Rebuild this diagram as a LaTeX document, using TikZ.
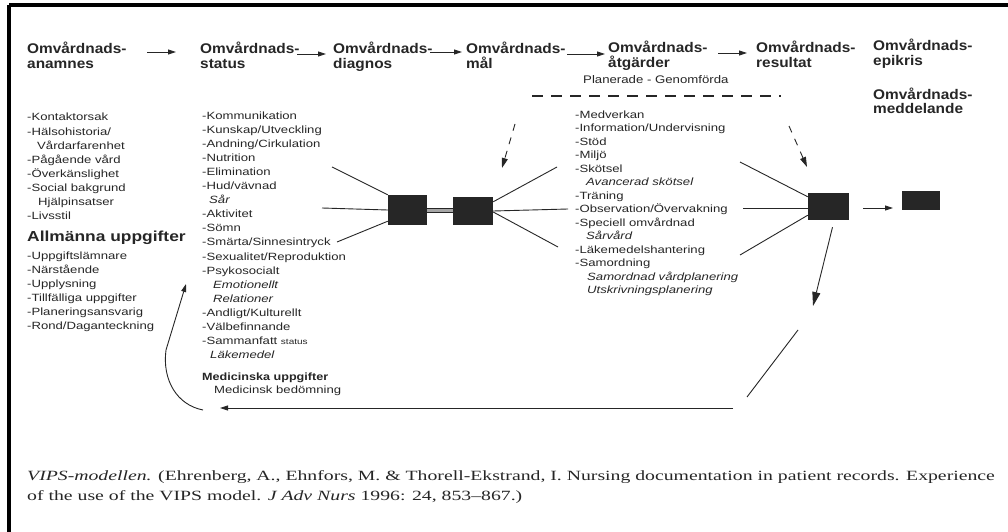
\documentclass[tikz,border=0pt]{standalone}
\usepackage{fontspec}
\setmainfont{Liberation Serif}
\newfontfamily\hsans[FakeStretch=1.1]{Liberation Sans}
\newfontfamily\lsans[FakeStretch=1.25]{Liberation Sans}
\newfontfamily\bsans[FakeStretch=1.2]{Liberation Sans}
\newfontfamily\capfont[FakeStretch=1.4]{Liberation Serif}
\usetikzlibrary{arrows.meta,calc}
\begin{document}
\begin{tikzpicture}[x=1pt,y=-1pt,
  every node/.style={text=black!85},
  hdr/.style={anchor=west, inner sep=0, font=\hsans\bfseries\fontsize{14}{16}\selectfont, text height=10pt, text depth=3pt},
  li/.style={anchor=west, inner sep=0, font=\lsans\fontsize{10.5}{12}\selectfont, text height=8pt, text depth=2pt},
  lit/.style={anchor=west, inner sep=0, font=\lsans\itshape\fontsize{10.5}{12}\selectfont, text height=8pt, text depth=2pt},
  bhd/.style={anchor=west, inner sep=0, font=\bsans\bfseries\fontsize{14.5}{16}\selectfont, text height=10pt, text depth=3pt},
  mhd/.style={anchor=west, inner sep=0, font=\bsans\bfseries\fontsize{10.5}{12}\selectfont, text height=8pt, text depth=2pt},
  captext/.style={anchor=west, inner sep=0, font=\capfont\fontsize{14.1}{16}\selectfont, text height=10pt, text depth=3pt},
  blk/.style={fill=black!85, inner sep=0, draw=none},
  ln/.style={line width=0.9pt, draw=black!85},
  arr/.style={ln, -{Triangle[length=8pt,width=5pt]}},
  bigarr/.style={ln, -{Triangle[length=14pt,width=8pt]}},
  darr/.style={ln, dash pattern=on 7pt off 7pt, -{Triangle[length=10pt,width=6pt]}},
]
\useasboundingbox (0,0) rectangle (1008,532);
\fill[white] (0,0) rectangle (1008,532);
% frame
\draw[line width=3.5pt, black] (9,5) -- (1008,5);
\draw[line width=3.5pt, black] (9,5) -- (9,532);

% headers
\node[hdr] (h1a) at (27,50) {Omvårdnads-};
\node[hdr] (h1b) at (27,65) {anamnes};
\node[hdr] (h2a) at (200,50) {Omvårdnads-};
\node[hdr] (h2b) at (200,65) {status};
\node[hdr] (h3a) at (333,50) {Omvårdnads-};
\node[hdr] (h3b) at (333,65) {diagnos};
\node[hdr] (h4a) at (466,50) {Omvårdnads-};
\node[hdr] (h4b) at (466,65) {mål};
\node[hdr] (h5a) at (608,49) {Omvårdnads-};
\node[hdr] (h5b) at (608,64) {åtgärder};
\node[anchor=west, inner sep=0, font=\bsans\fontsize{11}{12}\selectfont] (plan) at (583,80) {Planerade - Genomförda};
\node[hdr] (h6a) at (756,49) {Omvårdnads-};
\node[hdr] (h6b) at (756,64) {resultat};
\node[hdr] (h7a) at (873,47) {Omvårdnads-};
\node[hdr] (h7b) at (873,62) {epikris};
\node[hdr] (h8a) at (873,96) {Omvårdnads-};
\node[hdr] (h8b) at (873,110) {meddelande};

% header arrows
\coordinate (a1s) at (147,52); \coordinate (a1e) at (176,52);
\coordinate (a2s) at (297,54); \coordinate (a2e) at (326,54);
\coordinate (a3s) at (430,52); \coordinate (a3e) at (462,52);
\coordinate (a4s) at (567,54); \coordinate (a4e) at (605,54);
\coordinate (a5s) at (718,53); \coordinate (a5e) at (747,53);
\draw[arr] (a1s) -- (a1e);
\draw[arr] (a2s) -- (a2e);
\draw[arr] (a3s) -- (a3e);
\draw[arr] (a4s) -- (a4e);
\draw[arr] (a5s) -- (a5e);

% dashed line under Planerade - Genomforda
\coordinate (dl1) at (532,96); \coordinate (dl2) at (781,96);
\draw[line width=1.2pt, black!85, dash pattern=on 11pt off 8pt] (dl1) -- (dl2);

% left column
\node[li] (k0) at (27,118) {-Kontaktorsak};
\node[li] (k1) at (27,132.1) {-Hälsohistoria/};
\node[li] (k2) at (37,146.2) {Vårdarfarenhet};
\node[li] (k3) at (27,160.3) {-Pågående vård};
\node[li] (k4) at (27,174.4) {-Överkänslighet};
\node[li] (k5) at (27,188.5) {-Social bakgrund};
\node[li] (k6) at (38,202.6) {Hjälpinsatser};
\node[li] (k7) at (27,216.7) {-Livsstil};
\node[bhd] (allm) at (27,238) {Allmänna uppgifter};
\node[li] (g0) at (27,256) {-Uppgiftslämnare};
\node[li] (g1) at (27,270.1) {-Närstående};
\node[li] (g2) at (27,284.2) {-Upplysning};
\node[li] (g3) at (27,298.3) {-Tillfälliga uppgifter};
\node[li] (g4) at (27,312.4) {-Planeringsansvarig};
\node[li] (g5) at (27,326.5) {-Rond/Daganteckning};

% status column
\node[li] (s0) at (202,116) {-Kommunikation};
\node[li] (s1) at (202,130.1) {-Kunskap/Utveckling};
\node[li] (s2) at (202,144.2) {-Andning/Cirkulation};
\node[li] (s3) at (202,158.3) {-Nutrition};
\node[li] (s4) at (202,172.4) {-Elimination};
\node[li] (s5) at (202,186.5) {-Hud/vävnad};
\node[lit] (s6) at (209,200.6) {Sår};
\node[li] (s7) at (202,214.7) {-Aktivitet};
\node[li] (s8) at (202,228.8) {-Sömn};
\node[li] (s9) at (202,242.9) {-Smärta/Sinnesintryck};
\node[li] (s10) at (202,257) {-Sexualitet/Reproduktion};
\node[li] (s11) at (202,271.1) {-Psykosocialt};
\node[lit] (s12) at (213,285.2) {Emotionellt};
\node[lit] (s13) at (213,299.3) {Relationer};
\node[li] (s14) at (202,313.4) {-Andligt/Kulturellt};
\node[li] (s15) at (202,327.5) {-Välbefinnande};
\node[li] (s16) at (202,341.6) {-Sammanfatt {\fontsize{8}{9}\selectfont status}};
\node[lit] (s17) at (210,355.7) {Läkemedel};
\node[mhd] (med) at (202,377) {Medicinska uppgifter};
\node[li] (medb) at (214,390.5) {Medicinsk bedömning};

% atgarder column
\node[li] (t0) at (575,115) {-Medverkan};
\node[li] (t1) at (575,128.5) {-Information/Undervisning};
\node[li] (t2) at (575,142) {-Stöd};
\node[li] (t3) at (575,155.5) {-Miljö};
\node[li] (t4) at (575,169) {-Skötsel};
\node[lit] (t5) at (586,182.5) {Avancerad skötsel};
\node[li] (t6) at (575,196) {-Träning};
\node[li] (t7) at (575,209.5) {-Observation/Övervakning};
\node[li] (t8) at (575,223) {-Speciell omvårdnad};
\node[lit] (t9) at (586,236.5) {Sårvård};
\node[li] (t10) at (575,250) {-Läkemedelshantering};
\node[li] (t11) at (575,263.5) {-Samordning};
\node[lit] (t12) at (587,277) {Samordnad vårdplanering};
\node[lit] (t13) at (587,290.5) {Utskrivningsplanering};

% double bar between b1 and b2 (drawn first, boxes on top)
\coordinate (bb1) at (420,210.5);
\coordinate (bb2) at (460,210.5);
\draw[line width=0.9pt, black!85, double=black!35, double distance=3pt] (bb1) -- (bb2);

% boxes
\node[blk, minimum width=39pt, minimum height=30pt] (b1) at (407.5,210) {};
\node[blk, minimum width=40pt, minimum height=28pt] (b2) at (473,211) {};
\node[blk, minimum width=41pt, minimum height=27pt] (b3) at (828.5,206.5) {};
\node[blk, minimum width=38pt, minimum height=19pt] (b4) at (921,200.5) {};

% lines status -> b1
\coordinate (p1) at (332,167);
\coordinate (p2) at (322,208);
\coordinate (p3) at (337,242);
\draw[ln] (p1) -- (b1.north west);
\draw[ln] (p2) -- (b1.west);
\draw[ln] (p3) -- ($(b1.south west)+(0,-4)$);

% lines b2 -> atgarder
\coordinate (q1) at (557,167);
\coordinate (q2) at (568,209);
\coordinate (q3) at (558,247);
\draw[ln] ($(b2.north east)+(0,5)$) -- (q1);
\draw[ln] (b2.east) -- (q2);
\draw[ln] ($(b2.east)+(0,1)$) -- (q3);

% lines atgarder -> b3
\coordinate (r1) at (740,162);
\coordinate (r2) at (743,208);
\coordinate (r3) at (740,255);
\draw[ln] (r1) -- ($(b3.north west)+(0,4)$);
\draw[ln] (r2) -- ($(b3.west)+(0,1.5)$);
\draw[ln] (r3) -- ($(b3.south west)+(0,-5)$);

% b3 -> b4
\coordinate (u1) at (863,208);
\coordinate (u2) at (893,208);
\draw[arr] (u1) -- (u2);

% dashed arrows
\coordinate (d1s) at (515,124); \coordinate (d1e) at (502,168);
\coordinate (d2s) at (789,126); \coordinate (d2e) at (807,167);
\draw[darr] (d1s) -- (d1e);
\draw[darr] (d2s) -- (d2e);

% return loop
\coordinate (v1) at (813,306);
\coordinate (w1) at (798,330);
\coordinate (w2) at (747,397);
\coordinate (x1) at (733,408);
\coordinate (x2) at (220,408);
\coordinate (y0) at (203,410);
\coordinate (y1) at (166,350);
\coordinate (y2) at (186,284);
\draw[bigarr] ($(b3.south)+(4,7)$) -- (v1);
\draw[ln] (w1) -- (w2);
\draw[arr] (x1) -- (x2);
\draw[arr] (y0) .. controls (177,405) and (162,380) .. (y1) -- (y2);

% caption
\node[captext] (cap1) at (27,477) {\textit{VIPS-modellen.} (Ehrenberg, A., Ehnfors, M. \& Thorell-Ekstrand, I. Nursing documentation in patient records. Experience};
\node[captext] (cap2) at (27,497) {of the use of the VIPS model. \textit{J Adv Nurs} 1996: 24, 853–867.)};
\end{tikzpicture}
\end{document}
